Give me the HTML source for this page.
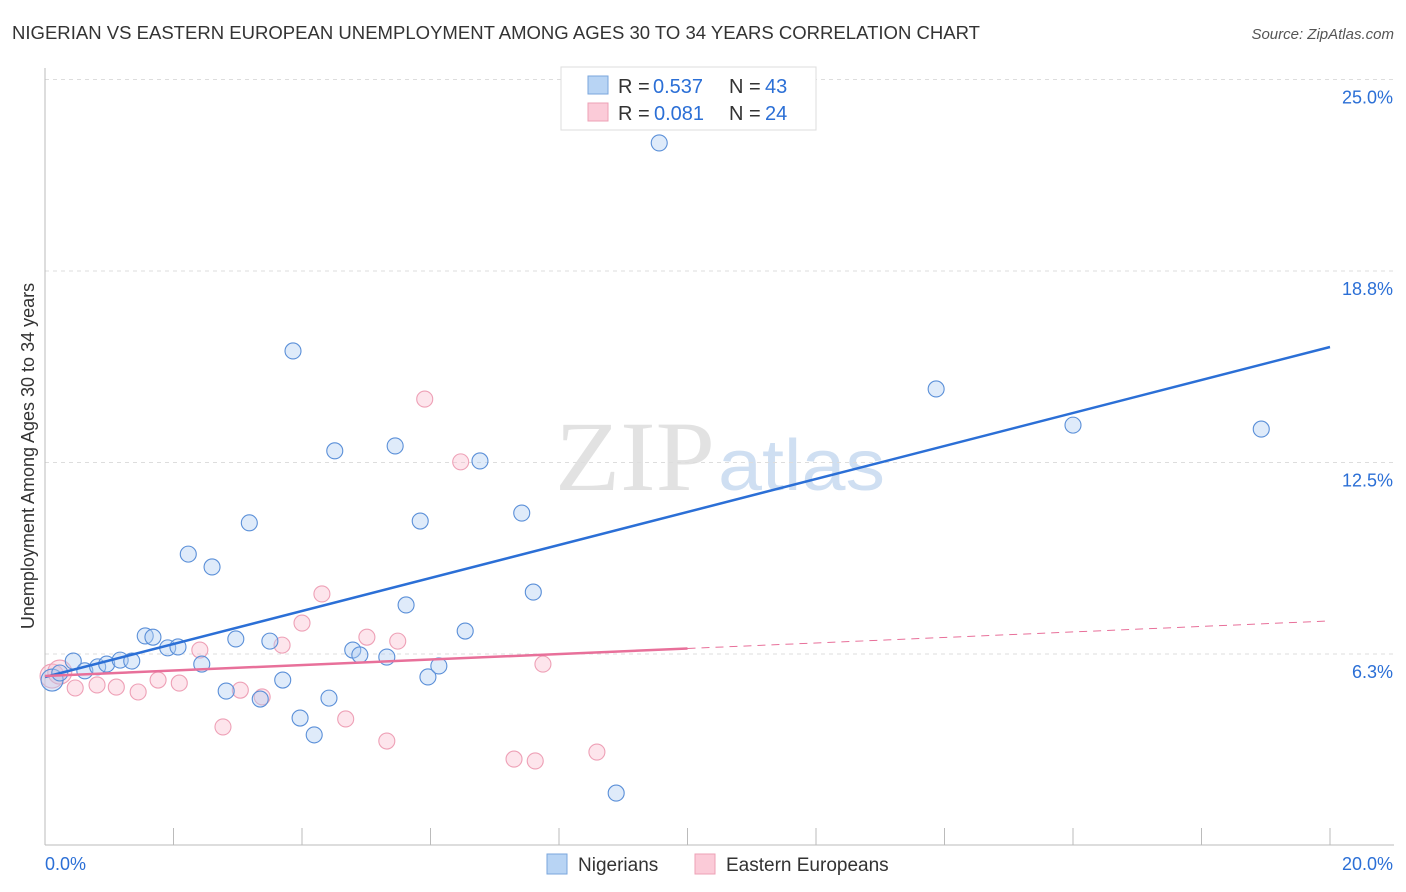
<!DOCTYPE html>
<html><head><meta charset="utf-8">
<style>
body{margin:0;background:#fff;font-family:"Liberation Sans",sans-serif;}
#c{position:absolute;left:0;top:0;}
</style></head>
<body>
<svg id="c" width="1406" height="892" xmlns="http://www.w3.org/2000/svg">
<text x="12" y="39" font-size="18" fill="#333" textLength="968" lengthAdjust="spacingAndGlyphs">NIGERIAN VS EASTERN EUROPEAN UNEMPLOYMENT AMONG AGES 30 TO 34 YEARS CORRELATION CHART</text>
<text x="1394" y="39" font-size="15" fill="#555" font-style="italic" text-anchor="end">Source: ZipAtlas.com</text>
<text x="555" y="490" font-size="100" fill="#e2e2e2" textLength="160" lengthAdjust="spacingAndGlyphs" font-family="Liberation Serif">ZIP</text>
<text x="718" y="490" font-size="72" fill="#cfdff2" textLength="167" lengthAdjust="spacingAndGlyphs">atlas</text>
<g id="grid"></g><g id="axes"></g><g id="marks"></g>
<text transform="translate(34,456) rotate(-90)" font-size="18" fill="#333" text-anchor="middle">Unemployment Among Ages 30 to 34 years</text>
<g>
<rect x="561" y="67" width="255" height="63" fill="#fff" stroke="#ddd"/>
<rect x="588" y="76" width="20" height="18" fill="#b8d4f4" stroke="#7aa6dc"/>
<rect x="588" y="103" width="20" height="18" fill="#fbcbd8" stroke="#eea0b6"/>
<text x="618" y="93" font-size="20" fill="#333">R =</text><text x="653" y="93" font-size="20" fill="#2b6fd6">0.537</text>
<text x="729" y="93" font-size="20" fill="#333">N =</text><text x="765" y="93" font-size="20" fill="#2b6fd6">43</text>
<text x="618" y="120" font-size="20" fill="#333">R =</text><text x="654" y="120" font-size="20" fill="#2b6fd6">0.081</text>
<text x="729" y="120" font-size="20" fill="#333">N =</text><text x="765" y="120" font-size="20" fill="#2b6fd6">24</text>
</g>
<g>
<rect x="547" y="854" width="20" height="20" fill="#b8d4f4" stroke="#7aa6dc"/>
<text x="578" y="871" font-size="19" fill="#333">Nigerians</text>
<rect x="695" y="854" width="20" height="20" fill="#fbcbd8" stroke="#eea0b6"/>
<text x="726" y="871" font-size="19" fill="#333">Eastern Europeans</text>
</g>
</svg>
<script>
const blueX=[0.11,0.23,0.44,0.62,0.82,0.96,1.17,1.35,1.56,1.68,1.91,2.07,2.23,2.44,2.60,2.82,2.97,3.18,3.35,3.50,3.70,3.86,3.97,4.19,4.42,4.51,4.79,4.90,5.32,5.45,5.62,5.84,5.96,6.13,6.54,6.77,7.42,7.60,8.89,9.56,13.87,16.0,18.93];
const blueY=[5.40,5.63,6.02,5.70,5.83,5.92,6.05,6.02,6.84,6.80,6.45,6.48,9.51,5.92,9.09,5.04,6.74,10.53,4.78,6.67,5.40,16.14,4.16,3.61,4.81,12.88,6.38,6.22,6.15,13.04,7.85,10.59,5.50,5.86,7.00,12.55,10.85,8.27,1.71,22.93,14.9,13.72,13.59];
const pinkX=[0.11,0.23,0.47,0.81,1.11,1.45,1.76,2.09,2.41,2.77,3.04,3.38,3.69,4.00,4.31,4.68,5.01,5.32,5.49,5.91,6.47,7.30,7.63,7.75,8.59];
const pinkY=[5.53,5.66,5.14,5.24,5.17,5.01,5.40,5.30,6.38,3.87,5.07,4.85,6.54,7.26,8.21,4.13,6.80,3.41,6.67,14.57,12.52,2.82,2.76,5.92,3.05];
const yTicks=[25.0,18.8,12.5,6.3];
const yTickVals=[25,18.75,12.5,6.25];
const blueTrend=[5.50,16.27];
const pinkTrend=[5.53,7.33];
const pinkSolidEnd=10;
const NS="http://www.w3.org/2000/svg";
const X=v=>45+v*64.25, Y=v=>654-(v-6.25)*30.64;
function mk(t,a,p){const e=document.createElementNS(NS,t);for(const k in a)e.setAttribute(k,a[k]);p.appendChild(e);return e;}
const grid=document.getElementById('grid'),axes=document.getElementById('axes'),marks=document.getElementById('marks');
yTickVals.forEach((v,i)=>{
 const l=mk('line',{x1:45,x2:1394,y1:Y(v),y2:Y(v),stroke:'#ddd','stroke-dasharray':'4,4'},grid);
 
 
 const t=mk('text',{x:1393,y:Y(v)+24,'font-size':18,fill:'#2b6fd6','text-anchor':'end'},axes);
 t.textContent=yTicks[i].toFixed(1)+'%';
 
 
});
mk('line',{x1:45,x2:45,y1:68,y2:845,stroke:'#bbb'},axes);
mk('line',{x1:45,x2:1394,y1:845,y2:845,stroke:'#bbb'},axes);
for(let i=0;i<=10;i++){const tk=mk('line',{x1:X(i*2),x2:X(i*2),y1:828,y2:845,stroke:'#bbb'},axes);
 
 }
let t0=mk('text',{x:45,y:870,'font-size':18,fill:'#2b6fd6'},axes);t0.textContent='0.0%';


let t1=mk('text',{x:1393,y:870,'font-size':18,fill:'#2b6fd6','text-anchor':'end'},axes);t1.textContent='20.0%';


pinkX.forEach((x,i)=>{const c=mk('circle',{cx:X(x),cy:Y(pinkY[i]),r:i<2?12:8,fill:'rgba(250,190,208,0.4)',stroke:'#eea0b6','stroke-width':1.1},marks);
 
 });
blueX.forEach((x,i)=>{const c=mk('circle',{cx:X(x),cy:Y(blueY[i]),r:i<1?11:8,fill:'rgba(176,206,242,0.4)',stroke:'#5a8fd8','stroke-width':1.1},marks);
 
 });
let bl=mk('line',{x1:X(0),y1:Y(blueTrend[0]),x2:X(20),y2:Y(blueTrend[1]),stroke:'#2b6fd6','stroke-width':2.5},marks);


const py=v=>pinkTrend[0]+(pinkTrend[1]-pinkTrend[0])*v/20;
let pl=mk('line',{x1:X(0),y1:Y(py(0)),x2:X(pinkSolidEnd),y2:Y(py(pinkSolidEnd)),stroke:'#e8709a','stroke-width':2.5},marks);


let pd=mk('line',{x1:X(pinkSolidEnd),y1:Y(py(pinkSolidEnd)),x2:X(20),y2:Y(py(20)),stroke:'#e8709a','stroke-width':1,'stroke-dasharray':'8,6'},marks);


</script>
</body></html>
